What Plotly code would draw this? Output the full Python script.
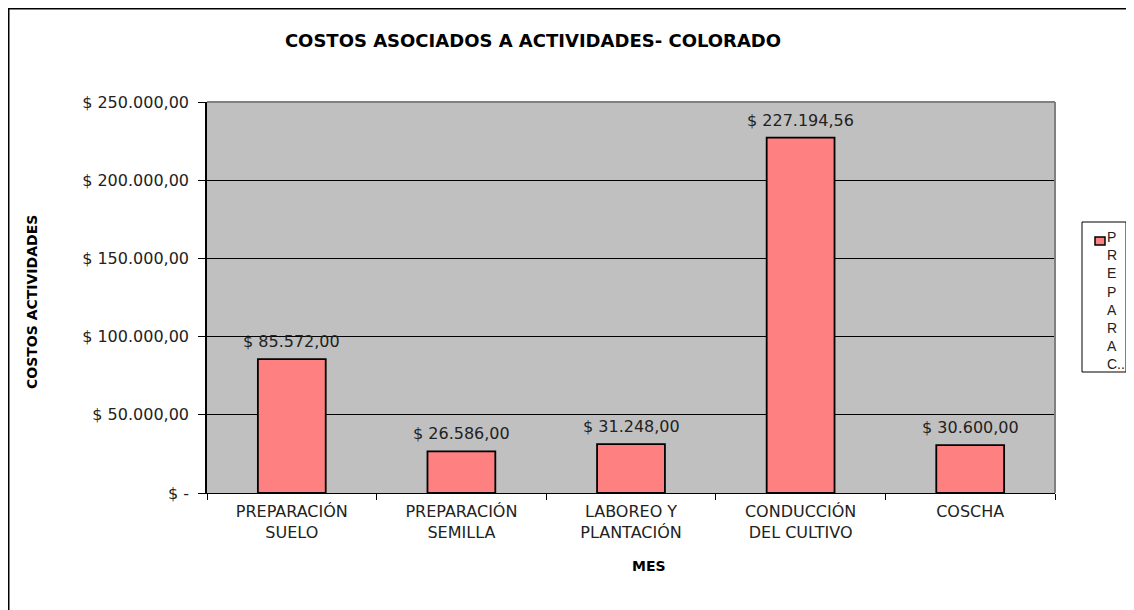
import plotly.graph_objects as go

categories = ["PREPARACIÓN<br>SUELO", "PREPARACIÓN<br>SEMILLA", "LABOREO Y<br>PLANTACIÓN",
              "CONDUCCIÓN<br>DEL CULTIVO", "COSCHA"]
costs = [85572.00, 26586.00, 31248.00, 227194.56, 30600.00]
labels = ["$ 85.572,00", "$ 26.586,00", "$ 31.248,00", "$ 227.194,56", "$ 30.600,00"]
y_ticks = [0, 50000, 100000, 150000, 200000, 250000]
y_ticktext = ["$ -", "$ 50.000,00", "$ 100.000,00", "$ 150.000,00", "$ 200.000,00", "$ 250.000,00"]
legend_text = "<br>".join(list("PREPARA")) + "<br>C.."

font_family = "DejaVu Sans, Verdana, sans-serif"
text_color = "#222222"
bar_color = "#FF8080"

# figure is shifted 8px by the page body margin, so size it to what is visible
W, H = 1126, 602
L, R, T, B = 199, 79, 94, 117
pw, ph = W - L - R, H - T - B


def px(x):  # figure x pixel -> paper
    return (x - L) / pw


def py(y):  # figure y pixel -> paper
    return (H - B - y) / ph


fig = go.Figure()
fig.add_trace(go.Bar(
    x=categories,
    y=costs,
    name="PREPARAC..",
    marker=dict(color=bar_color, line=dict(color="black", width=1.8)),
    width=0.4,
    showlegend=False,
))

# value labels above the bars
for cat, val, lab in zip(categories, costs, labels):
    fig.add_annotation(x=cat, y=val, text=lab, showarrow=False,
                       yanchor="bottom", yshift=6,
                       font=dict(size=16, color=text_color, family=font_family))

fig.update_layout(
    width=W,
    height=H,
    margin=dict(l=L, r=R, t=T, b=B),
    paper_bgcolor="white",
    plot_bgcolor="#C0C0C0",
    font=dict(family=font_family, color=text_color, size=16),
    title=dict(
        text="<b>COSTOS ASOCIADOS A ACTIVIDADES- COLORADO</b>",
        x=525 / W, xanchor="center",
        y=1 - 33 / H, yanchor="middle",
        font=dict(size=18, color="black"),
    ),
    showlegend=False,
    bargap=0.6,
)

fig.update_xaxes(
    showline=True, linecolor="black", linewidth=1,
    ticks="outside", tickson="boundaries", ticklen=6, tickcolor="black",
    tickfont=dict(size=16, color=text_color),
    ticklabelstandoff=4,
)
fig.update_yaxes(
    range=[0, 250000],
    tickvals=y_ticks, ticktext=y_ticktext,
    showgrid=True, gridcolor="black", gridwidth=1,
    showline=True, linecolor="black", linewidth=1.5,
    ticks="outside", ticklen=7, tickcolor="black",
    tickfont=dict(size=16, color=text_color),
    ticklabelstandoff=6,
    zeroline=False,
)

# axis titles
fig.add_annotation(text="<b>MES</b>", xref="paper", yref="paper",
                   x=px(641), y=py(558), xanchor="center", yanchor="middle",
                   showarrow=False, font=dict(size=14, color="black"))
fig.add_annotation(text="<b>COSTOS ACTIVIDADES</b>", xref="paper", yref="paper",
                   x=px(24), y=py(294), xanchor="center", yanchor="middle",
                   showarrow=False, textangle=-90,
                   font=dict(size=14, color="black"))

# gray plot-area border on top and right
fig.add_shape(type="line", xref="paper", yref="paper", x0=0, x1=1, y0=1, y1=1,
              line=dict(color="#808080", width=2))
fig.add_shape(type="line", xref="paper", yref="paper", x0=1, x1=1, y0=0, y1=1,
              line=dict(color="#808080", width=2))
# outer frame of the chart
fig.add_shape(type="rect", xref="paper", yref="paper",
              x0=px(0.75), x1=px(W + 20), y0=py(H + 20), y1=py(0.75),
              line=dict(color="black", width=1.5), layer="below")

# legend box (single entry, name wrapped one letter per line)
fig.add_shape(type="rect", xref="paper", yref="paper",
              x0=px(1074), x1=px(1118), y0=py(364), y1=py(214),
              line=dict(color="black", width=1), fillcolor="white")
fig.add_shape(type="rect", xref="paper", yref="paper",
              x0=px(1087), x1=px(1097), y0=py(237), y1=py(229),
              line=dict(color="black", width=1.5), fillcolor=bar_color)
fig.add_annotation(text=legend_text, xref="paper", yref="paper",
                   x=px(1097), y=py(219), xanchor="left", yanchor="top",
                   align="left", showarrow=False,
                   font=dict(size=14, color=text_color, family="Liberation Sans, Arial, sans-serif"))

fig.write_html("out.html")
